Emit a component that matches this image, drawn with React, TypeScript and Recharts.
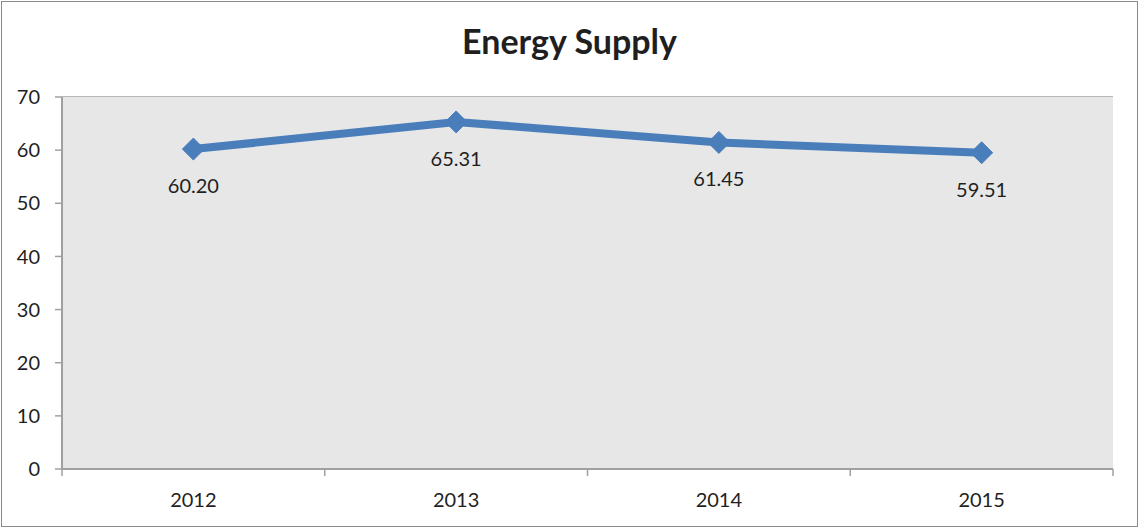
import React from "react";
import { LineChart, Line, XAxis, YAxis, CartesianGrid, LabelList } from "recharts";

const years = ["2012", "2013", "2014", "2015"];
const supply = [60.2, 65.31, 61.45, 59.51];
const yTicks = [0, 10, 20, 30, 40, 50, 60, 70];

const data = years.map((y, i) => ({ year: y, value: supply[i] }));

const W = 1139;
const H = 528;
const PLOT_LEFT = 62;
const PLOT_RIGHT = 1113;
const PLOT_TOP = 97;
const PLOT_BOTTOM = 469;
const BAND = (PLOT_RIGHT - PLOT_LEFT) / years.length;
const FONT = "Lato, 'Open Sans', sans-serif";
const TEXT = "#1f1f1f";
const GRID = "#a0a0a0";
const BLUE = "#4a7ebb";

const Diamond = (props: any) => {
  const { cx, cy } = props;
  if (cx == null || cy == null) return null;
  const r = 11;
  return (
    <polygon
      points={`${cx},${cy - r} ${cx + r},${cy} ${cx},${cy + r} ${cx - r},${cy}`}
      fill={BLUE}
      stroke={BLUE}
      strokeWidth={1}
    />
  );
};

const XTick = (props: any) => {
  const { x, payload, index } = props;
  const left = x - BAND / 2;
  const right = x + BAND / 2;
  return (
    <g>
      <line x1={left} x2={left} y1={PLOT_BOTTOM} y2={PLOT_BOTTOM + 7} stroke={GRID} strokeWidth={1.5} />
      {index === years.length - 1 && (
        <line x1={right} x2={right} y1={PLOT_BOTTOM} y2={PLOT_BOTTOM + 7} stroke={GRID} strokeWidth={1.5} />
      )}
      <text x={x} y={PLOT_BOTTOM + 38} textAnchor="middle" fontSize={20} fontFamily={FONT} fill={TEXT}>
        {payload.value}
      </text>
    </g>
  );
};

const ValueLabel = (props: any) => {
  const { x, y, value } = props;
  return (
    <text x={x} y={y + 44} textAnchor="middle" fontSize={20} fontFamily={FONT} fill={TEXT}>
      {Number(value).toFixed(2)}
    </text>
  );
};

export default function App() {
  return (
    <div style={{ position: "absolute", left: 0, top: 0, width: W, height: H, background: "#fff" }}>
      <div
        style={{
          position: "absolute",
          left: 1,
          top: 1,
          width: W - 4,
          height: H - 4,
          border: "1px solid #8a8a8a",
        }}
      />
      <div
        style={{
          position: "absolute",
          left: 0,
          top: 21,
          width: W,
          textAlign: "center",
          fontFamily: FONT,
          fontWeight: 700,
          fontSize: 34,
          color: TEXT,
          lineHeight: "40px",
        }}
      >
        Energy Supply
      </div>
      <div style={{ position: "absolute", left: 0, top: 0 }}>
        <LineChart
          width={W}
          height={H}
          data={data}
          margin={{ top: PLOT_TOP, right: W - PLOT_RIGHT, bottom: 0, left: 0 }}
        >
          <rect x={PLOT_LEFT} y={PLOT_TOP} width={PLOT_RIGHT - PLOT_LEFT} height={PLOT_BOTTOM - PLOT_TOP} fill="#e7e7e7" />
          <CartesianGrid vertical={false} stroke={GRID} strokeWidth={1.5} fill="#e7e7e7" />
          <XAxis
            dataKey="year"
            height={H - PLOT_BOTTOM}
            padding={{ left: BAND / 2, right: BAND / 2 }}
            axisLine={{ stroke: GRID, strokeWidth: 2 }}
            tickLine={false}
            tick={<XTick />}
            interval={0}
          />
          <YAxis
            width={PLOT_LEFT}
            domain={[0, 70]}
            ticks={yTicks}
            interval={0}
            axisLine={{ stroke: GRID, strokeWidth: 2 }}
            tickLine={{ stroke: GRID, strokeWidth: 1.5 }}
            tickSize={7}
            tickMargin={15}
            tick={{ fontSize: 20, fontFamily: FONT, fill: TEXT }}
          />
          <Line
            type="linear"
            dataKey="value"
            stroke={BLUE}
            strokeWidth={8}
            dot={<Diamond />}
            activeDot={false}
            isAnimationActive={false}
          >
            <LabelList dataKey="value" content={<ValueLabel />} />
          </Line>
        </LineChart>
      </div>
    </div>
  );
}
